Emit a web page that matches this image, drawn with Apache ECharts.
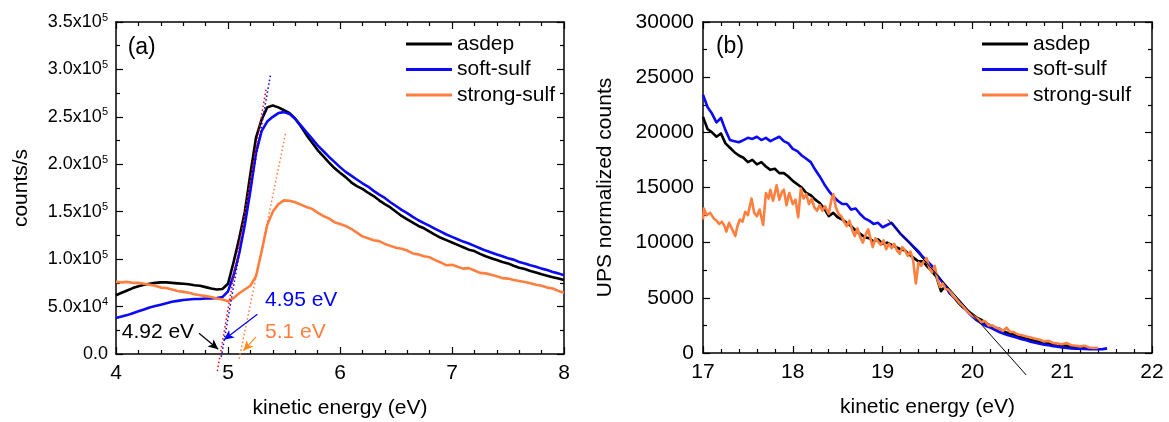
<!DOCTYPE html>
<html><head><meta charset="utf-8">
<script src="https://cdn.jsdelivr.net/npm/echarts@6/dist/echarts.min.js"></script>
<style>html,body{margin:0;padding:0;background:#fff}#c{width:1169px;height:422px}</style>
</head><body><div id="c"></div>
<script>
// ---------------- DATA ----------------
var seriesNames = ['asdep', 'soft-sulf', 'strong-sulf'];

// Panel (a): kinetic energy (eV) and counts/s in units of 1e5
var aE = [4.00,4.05,4.10,4.15,4.20,4.25,4.30,4.35,4.40,4.45,4.50,4.55,4.60,4.65,4.70,4.75,4.80,4.85,4.90,4.95,
          5.00,5.05,5.10,5.15,5.20,5.25,5.30,5.35,5.40,5.45,5.50,5.55,5.60,5.65,5.70,5.75,5.80,5.85,5.90,5.95,
          6.00,6.05,6.10,6.15,6.20,6.25,6.30,6.35,6.40,6.45,6.50,6.55,6.60,6.65,6.70,6.75,6.80,6.85,6.90,6.95,
          7.00,7.05,7.10,7.15,7.20,7.25,7.30,7.35,7.40,7.45,7.50,7.55,7.60,7.65,7.70,7.75,7.80,7.85,7.90,7.95,8.00];
var aAsdep = [0.62,0.645,0.67,0.695,0.715,0.73,0.74,0.75,0.755,0.755,
              0.75,0.745,0.74,0.735,0.725,0.72,0.705,0.69,0.68,0.685,
              0.74,0.97,1.22,1.50,1.90,2.28,2.47,2.60,2.62,2.60,
              2.57,2.54,2.48,2.40,2.31,2.23,2.15,2.085,2.02,1.96,
              1.91,1.865,1.81,1.77,1.74,1.70,1.665,1.62,1.58,1.545,
              1.50,1.455,1.42,1.385,1.35,1.325,1.29,1.255,1.225,1.20,
              1.175,1.15,1.125,1.10,1.085,1.055,1.03,1.01,0.99,0.97,
              0.955,0.93,0.91,0.895,0.875,0.86,0.84,0.825,0.81,0.795,0.78];
var aSoft = [0.38,0.395,0.41,0.43,0.45,0.47,0.49,0.505,0.52,0.535,
             0.55,0.56,0.57,0.575,0.58,0.58,0.585,0.585,0.59,0.60,
             0.66,0.83,1.06,1.36,1.72,2.12,2.35,2.45,2.50,2.54,
             2.55,2.53,2.48,2.41,2.34,2.27,2.20,2.14,2.08,2.025,
             1.97,1.92,1.88,1.84,1.80,1.765,1.72,1.68,1.645,1.60,
             1.56,1.52,1.485,1.445,1.41,1.38,1.35,1.32,1.29,1.26,
             1.235,1.21,1.185,1.165,1.14,1.115,1.09,1.07,1.05,1.03,
             1.01,0.995,0.97,0.955,0.935,0.92,0.90,0.885,0.865,0.85,0.83];
var aStrong = [0.76,0.755,0.76,0.75,0.75,0.74,0.73,0.72,0.70,0.695,
               0.68,0.665,0.655,0.645,0.63,0.62,0.61,0.60,0.585,0.575,
               0.555,0.59,0.64,0.68,0.72,0.82,1.08,1.36,1.50,1.58,
               1.62,1.615,1.60,1.575,1.55,1.53,1.49,1.455,1.43,1.39,
               1.37,1.35,1.32,1.28,1.24,1.22,1.20,1.19,1.16,1.14,
               1.12,1.11,1.09,1.06,1.05,1.03,1.02,0.99,0.965,0.935,
               0.94,0.92,0.90,0.905,0.88,0.855,0.85,0.835,0.82,0.80,
               0.795,0.78,0.77,0.76,0.745,0.73,0.72,0.70,0.69,0.665,0.645];

// Panel (a) extrapolation (tangent) lines: [x1, x2], [y1, y2]
var tanRedX = [4.905, 5.34],  tanRedY = [-0.18, 2.79];
var tanBlueX = [4.94, 5.38],  tanBlueY = [-0.03, 2.95];
var tanOrangeX = [5.10, 5.515], tanOrangeY = [-0.05, 2.33];

// Panel (a) annotation texts
var annTextsA = ['(a)', '4.92 eV', '4.95 eV', '5.1 eV'];

// Panel (b): kinetic energy (eV) and UPS normalized counts
var bE_asdep = [17.00,17.05,17.10,17.15,17.20,17.25,17.30,17.35,17.40,17.45,17.50,17.55,17.60,17.65,17.70,17.75,17.80,17.85,17.90,17.95,
                18.00,18.05,18.10,18.15,18.20,18.25,18.30,18.35,18.40,18.45,18.50,18.55,18.60,18.65,18.70,18.75,18.80,18.85,18.90,18.95,
                19.00,19.05,19.10,19.15,19.20,19.25,19.30,19.35,19.40,19.45,19.50,19.55,19.60,19.65,19.70,19.75,19.80,19.85,19.90,19.95,
                20.00,20.05,20.10,20.15,20.20,20.25,20.30,20.35,20.40,20.45,20.50,20.55,20.60,20.65,20.70,20.75,20.80,20.85,20.90,20.95,
                21.00,21.05,21.10,21.15,21.20,21.25,21.30,21.35,21.40];
var bAsdep = [21400,20300,20000,19600,19900,19000,18600,18200,17900,17700,17300,17500,17100,17300,16900,16600,16700,16300,16300,16000,
              15600,15300,15000,14500,14300,13900,13600,13100,12400,12700,12300,12100,11800,11500,11100,10800,10500,10400,10100,10300,
              9900,10000,9800,9600,9400,9300,8900,8600,8300,8300,7800,7400,6900,5600,6100,5400,5000,4500,4100,3800,
              3500,3200,3000,2700,2500,2300,2200,1950,1800,1700,1550,1450,1300,1200,1100,1000,950,850,800,750,
              700,650,600,550,500,450,420,400,380];
var bE_soft = [17.00,17.05,17.10,17.15,17.20,17.25,17.30,17.35,17.40,17.45,17.50,17.55,17.60,17.65,17.70,17.75,17.80,17.85,17.90,17.95,
               18.00,18.05,18.10,18.15,18.20,18.25,18.30,18.35,18.40,18.45,18.50,18.55,18.60,18.65,18.70,18.75,18.80,18.85,18.90,18.95,
               19.00,19.05,19.10,19.15,19.20,19.25,19.30,19.35,19.40,19.45,19.50,19.55,19.60,19.65,19.70,19.75,19.80,19.85,19.90,19.95,
               20.00,20.05,20.10,20.15,20.20,20.25,20.30,20.35,20.40,20.45,20.50,20.55,20.60,20.65,20.70,20.75,20.80,20.85,20.90,20.95,
               21.00,21.05,21.10,21.15,21.20,21.25,21.30,21.35,21.40,21.45,21.50];
var bSoft = [23400,22300,21700,20900,21300,20200,19300,19200,19100,19300,19500,19400,19600,19300,19500,19200,19400,19600,19200,19000,
             18500,18300,17900,17600,17300,16600,16000,15300,14700,14200,13800,13500,13500,13000,13100,12600,12200,12000,11700,11800,
             11400,11600,11800,11300,10800,10400,10000,9600,9200,8700,8300,7900,7100,6600,6000,5400,5000,4700,4200,3700,
             3300,2950,2700,2450,2300,2100,1900,1750,1600,1500,1380,1250,1150,1030,920,830,760,700,620,560,
             500,460,420,400,380,360,350,340,340,350,420];
var bE_strong = [17.00,17.01,17.04,17.08,17.12,17.15,17.18,17.21,17.24,17.26,17.29,17.32,17.36,17.38,17.41,17.44,17.47,17.50,17.54,17.57,
                 17.60,17.63,17.67,17.70,17.73,17.75,17.78,17.82,17.85,17.88,17.90,17.93,17.96,18.00,18.03,18.06,18.09,18.12,18.15,18.18,
                 18.21,18.24,18.27,18.30,18.33,18.36,18.40,18.43,18.45,18.48,18.51,18.54,18.57,18.60,18.63,18.66,18.69,18.72,18.75,18.78,
                 18.81,18.84,18.87,18.89,18.92,18.95,18.98,19.01,19.04,19.07,19.10,19.13,19.16,19.19,19.22,19.25,19.28,19.31,19.34,19.37,
                 19.40,19.43,19.46,19.49,19.52,19.55,19.58,19.61,19.64,19.67,19.70,19.74,19.78,19.82,19.86,19.90,19.94,19.98,20.02,20.06,
                 20.10,20.14,20.18,20.22,20.26,20.30,20.34,20.38,20.42,20.46,20.50,20.55,20.60,20.65,20.70,20.75,20.80,20.85,20.90,20.95,
                 21.00,21.05,21.10,21.15,21.20,21.25,21.30,21.35,21.40];
var bStrong = [12100,13100,12500,12700,12200,12000,11700,11900,11500,11000,11800,11300,10600,11400,12100,11900,12800,12500,14000,12700,
               12400,13000,11600,14500,14000,14800,13800,15200,13900,14600,14800,13400,14500,13500,13900,12300,14900,14000,14400,13500,
               14000,13200,12900,13400,12900,13300,12600,13900,14400,13200,12600,12400,11900,11500,12000,11200,10600,11300,10500,10000,
               10700,11200,10200,9600,10400,10100,9800,10200,9400,9900,9500,9900,9300,9000,9600,9300,8800,9200,8400,6300,
               8200,7900,8300,8600,7700,7300,7900,6700,6000,6300,5800,5700,5200,4900,4500,4200,3800,3500,3300,3100,
               2800,2900,2500,2500,2300,2200,2000,2300,1900,1900,1700,1600,1500,1400,1300,1200,1050,1100,900,850,
               800,900,700,650,600,650,500,450,480];

// Panel (b) linear extrapolation line
var tanBX = [19.06, 20.6], tanBY = [12100, -2000];

var annTextsB = ['(b)'];

// ---------------- CHART ----------------
var FONT = '"Liberation Sans", Arial, sans-serif';
var C_BLACK = '#000000', C_BLUE = '#0a0af5', C_ORANGE = '#ff7f3f';

function zip(xs, ys) { return xs.map(function (x, i) { return [x, ys[i]]; }); }

function axis(grid, pos, min, max, interval, minorSplit, showLabels, extra) {
  var a = {
    type: 'value', gridIndex: grid, position: pos, min: min, max: max, interval: interval,
    axisLine: { show: true, onZero: false, lineStyle: { color: '#000', width: 1.5 } },
    axisTick: { show: true, inside: true, length: 7, lineStyle: { color: '#000', width: 1.2 } },
    minorTick: { show: true, splitNumber: minorSplit, length: 4, lineStyle: { color: '#000', width: 1.2 } },
    splitLine: { show: false }, minorSplitLine: { show: false },
    axisLabel: { show: showLabels, color: '#000', fontSize: 21, fontFamily: FONT, margin: 9,
                 formatter: function (v) { return String(v); } }
  };
  if (extra) for (var k in extra) a[k] = extra[k];
  return a;
}

var yLabelA = {
  show: true, color: '#000', margin: 8, fontFamily: FONT, fontSize: 18,
  formatter: function (v) {
    if (v === 0) return '{m|0.0}';
    var raw = v * 1e5;
    var e = Math.floor(Math.log10(raw) + 1e-9);
    var m = (raw / Math.pow(10, e)).toFixed(1);
    return '{m|' + m + 'x10}{e|' + e + '}';
  },
  rich: {
    m: { fontSize: 18, lineHeight: 20, color: '#000', fontFamily: FONT },
    e: { fontSize: 11, lineHeight: 20, verticalAlign: 'top', color: '#000', fontFamily: FONT }
  }
};

var nameStyle = { fontSize: 21, color: '#000', fontFamily: FONT };

var xAxes = [
  axis(0, 'bottom', 4, 8, 1, 5, true, { name: 'kinetic energy (eV)', nameLocation: 'middle', nameGap: 44, nameTextStyle: nameStyle }),
  axis(0, 'top', 4, 8, 1, 5, false),
  axis(1, 'bottom', 17, 22, 1, 5, true, { name: 'kinetic energy (eV)', nameLocation: 'middle', nameGap: 44, nameTextStyle: nameStyle }),
  axis(1, 'top', 17, 22, 1, 5, false)
];
var yAxes = [
  axis(0, 'left', 0, 3.5, 0.5, 2, true, { name: 'counts/s', nameLocation: 'middle', nameGap: 84, nameTextStyle: nameStyle }),
  axis(0, 'right', 0, 3.5, 0.5, 2, false),
  axis(1, 'left', 0, 30000, 5000, 2, true, { name: 'UPS normalized counts', nameLocation: 'middle', nameGap: 87, nameTextStyle: nameStyle }),
  axis(1, 'right', 0, 30000, 5000, 2, false)
];
yAxes[0].axisLabel = yLabelA;

function dataLine(name, xs, ys, color, xi, yi) {
  return {
    type: 'line', name: name, xAxisIndex: xi, yAxisIndex: yi, data: zip(xs, ys),
    symbol: 'none', showSymbol: false, color: color,
    lineStyle: { color: color, width: 2.6, join: 'round' }, emphasis: { disabled: true }, silent: true, z: 3
  };
}
function guide(xs, ys, color, xi, yi, type, width) {
  return {
    type: 'line', name: '_guide', xAxisIndex: xi, yAxisIndex: yi, data: zip(xs, ys), clip: false,
    symbol: 'none', showSymbol: false, color: color,
    lineStyle: { color: color, width: width, type: type }, emphasis: { disabled: true }, silent: true, z: 4
  };
}
function arrow(x1, y1, x2, y2, color) {
  return [{ coord: [x1, y1], lineStyle: { color: color, width: 1.2, type: 'solid', opacity: 1 } }, { coord: [x2, y2] }];
}

var annA = {
  type: 'scatter', name: '_annA', xAxisIndex: 0, yAxisIndex: 0, symbolSize: 0, silent: true, clip: false, z: 6,
  itemStyle: { opacity: 1 },
  label: { show: true, position: 'right', distance: 0, fontSize: 21, fontFamily: FONT, opacity: 1,
           formatter: function (p) { return p.data.txt; } },
  data: [
    { value: [4.104, 3.233], txt: annTextsA[0], label: { color: '#000', fontSize: 23 } },
    { value: [4.051, 0.225], txt: annTextsA[1], label: { color: '#000' } },
    { value: [5.330, 0.562], txt: annTextsA[2], label: { color: '#0000ff' } },
    { value: [5.330, 0.235], txt: annTextsA[3], label: { color: C_ORANGE } }
  ],
  markLine: {
    silent: true, symbol: ['none', 'arrow'], symbolSize: [7, 10], label: { show: false }, emphasis: { disabled: true },
    animation: false,
    data: [
      arrow(4.741, 0.218, 4.913, 0.05, '#000'),
      arrow(5.262, 0.42, 4.964, 0.15, '#0000ff'),
      arrow(5.25, 0.18, 5.137, 0.035, '#ff8c1a')
    ]
  }
};
var annB = {
  type: 'scatter', name: '_annB', xAxisIndex: 2, yAxisIndex: 2, symbolSize: 0, silent: true, z: 6,
  itemStyle: { opacity: 1 },
  label: { show: true, position: 'right', distance: 0, fontSize: 23, fontFamily: FONT, color: '#000', opacity: 1,
           formatter: function (p) { return p.data.txt; } },
  data: [{ value: [17.144, 27720], txt: annTextsB[0] }]
};

var series = [
  dataLine(seriesNames[0], aE, aAsdep, C_BLACK, 0, 0),
  dataLine(seriesNames[1], aE, aSoft, C_BLUE, 0, 0),
  dataLine(seriesNames[2], aE, aStrong, C_ORANGE, 0, 0),
  guide(tanRedX, tanRedY, '#ff0000', 0, 0, [1.5, 2.5], 1.5),
  guide(tanBlueX, tanBlueY, '#0000ff', 0, 0, [1.5, 2.5], 1.5),
  guide(tanOrangeX, tanOrangeY, C_ORANGE, 0, 0, [1.5, 2.5], 1.5),
  annA,
  dataLine(seriesNames[0], bE_asdep, bAsdep, C_BLACK, 2, 2),
  dataLine(seriesNames[1], bE_soft, bSoft, C_BLUE, 2, 2),
  dataLine(seriesNames[2], bE_strong, bStrong, C_ORANGE, 2, 2),
  guide(tanBX, tanBY, '#000', 2, 2, 'solid', 1),
  annB
];

function legend(left) {
  return {
    data: seriesNames, left: left, top: 33, orient: 'vertical', icon: 'rect', itemWidth: 46, itemHeight: 3,
    itemGap: 3.5, selectedMode: false, padding: 0,
    textStyle: { fontSize: 21, lineHeight: 22, color: '#000', fontFamily: FONT }
  };
}

var option = {
  animation: false,
  backgroundColor: '#fff',
  textStyle: { fontFamily: FONT },
  grid: [
    { left: 116, top: 22, width: 448, height: 332, outerBoundsMode: 'none', containLabel: false },
    { left: 703, top: 22, width: 449, height: 331, outerBoundsMode: 'none', containLabel: false }
  ],
  xAxis: xAxes,
  yAxis: yAxes,
  legend: [legend(406), legend(982)],
  tooltip: { show: false },
  series: series
};

var chart = echarts.init(document.getElementById('c'), null, { renderer: 'canvas' });
chart.setOption(option);
</script>
</body></html>
